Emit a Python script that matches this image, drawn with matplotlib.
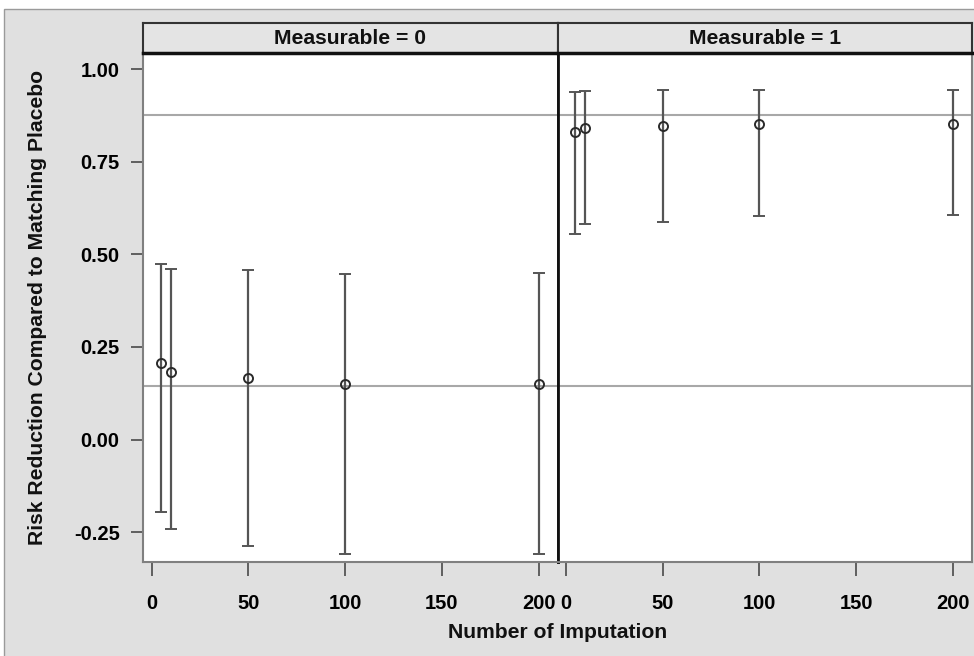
import matplotlib
matplotlib.use("Agg")
import matplotlib.pyplot as plt
from matplotlib.patches import Rectangle

# ---- data ----
imputations = [5, 10, 50, 100, 200]
panels = ["Measurable = 0", "Measurable = 1"]
est_m0 = [0.208, 0.183, 0.165, 0.151, 0.150]
lo_m0 = [-0.194, -0.241, -0.286, -0.309, -0.309]
hi_m0 = [0.473, 0.460, 0.457, 0.448, 0.449]
est_m1 = [0.831, 0.840, 0.846, 0.851, 0.852]
lo_m1 = [0.554, 0.581, 0.588, 0.603, 0.606]
hi_m1 = [0.937, 0.941, 0.943, 0.943, 0.943]
ref_lines = [0.145, 0.877]
yticks = [-0.25, 0.00, 0.25, 0.50, 0.75, 1.00]
xticks = [0, 50, 100, 150, 200]

plt.rcParams['font.family'] = ['Liberation Sans', 'DejaVu Sans']
plt.rcParams['font.weight'] = 'bold'
plt.rcParams['axes.unicode_minus'] = False

W, H = 974, 656
fig = plt.figure(figsize=(W / 100, H / 100), dpi=100)
fig.patch.set_facecolor('white')

BG = '#e0e0e0'
# outer gray panel
bg = Rectangle((4 / W, -0.01), 1.0, 1 - 9 / H + 0.01, transform=fig.transFigure,
               facecolor=BG, edgecolor='#9a9a9a', linewidth=1.0, zorder=-10)
fig.add_artist(bg)

def fx(px):
    return px / W

def fy(py):
    return 1 - py / H

top_px, bot_px = 52.7, 562.3
strip_top = 23.3
lefts = [143.3, 557.5]
rights = [557.5, 971.7]
FS = 14.5
FS_LBL = 15.2

series = [(est_m0, lo_m0, hi_m0), (est_m1, lo_m1, hi_m1)]

for i in range(2):
    l, r = lefts[i], rights[i]
    ax = fig.add_axes([fx(l), fy(bot_px), fx(r - l), (bot_px - top_px) / H])
    ax.set_zorder(1)
    ax.set_facecolor('white')
    est, lo, hi = series[i]
    for yv in ref_lines:
        ax.axhline(yv, color='#a8a8a8', lw=1.5, zorder=1)
    yerr = [[e - a for e, a in zip(est, lo)], [b - e for e, b in zip(est, hi)]]
    ax.errorbar(imputations, est, yerr=yerr, fmt='o', mfc='none', mec='#2a2a2a', mew=1.4, ms=6.5,
                ecolor='#555555', elinewidth=1.6, capsize=4.5, capthick=1.6, zorder=3)
    ax.set_xlim(-4.3, 209.8)
    ax.set_ylim(-0.331, 1.044)
    ax.set_xticks(xticks)
    ax.set_xticklabels([str(t) for t in xticks], fontsize=FS, fontweight='bold')
    ax.tick_params(axis='x', length=10, width=1.3, color='#555555', pad=13)
    if i == 0:
        ax.set_yticks(yticks)
        ax.set_yticklabels(['%.2f' % t for t in yticks], fontsize=FS, fontweight='bold')
        ax.tick_params(axis='y', length=9, width=1.3, color='#555555', pad=8)
    else:
        ax.set_yticks([])
    for s in ax.spines.values():
        s.set_color('#808080')
        s.set_linewidth(1.5)
    if i == 0:
        ax.spines['right'].set_color('#111111')
        ax.spines['right'].set_linewidth(2.0)
    else:
        ax.spines['left'].set_color('#111111')
        ax.spines['left'].set_linewidth(2.0)

    # strip
    sax = fig.add_axes([fx(l), fy(top_px), fx(r - l), (top_px - strip_top) / H])
    sax.set_zorder(1)
    sax.set_facecolor('#e4e4e4')
    sax.set_xticks([])
    sax.set_yticks([])
    for s in sax.spines.values():
        s.set_color('#333333')
        s.set_linewidth(1.5)
    sax.spines['bottom'].set_color('#111111')
    sax.spines['bottom'].set_linewidth(2.5)
    sax.text(0.5, 0.5, panels[i], transform=sax.transAxes, ha='center', va='center',
             fontsize=FS_LBL, fontweight='bold', color='#111111')

fig.text(fx((143.3 + 971.7) / 2), fy(633), 'Number of Imputation', ha='center', va='center',
         fontsize=FS_LBL, fontweight='bold', color='#111111')
fig.text(fx(38), fy((top_px + bot_px) / 2), 'Risk Reduction Compared to Matching Placebo',
         rotation=90, ha='center', va='center', fontsize=FS_LBL, fontweight='bold', color='#111111')

fig.savefig('out.png', dpi=100, facecolor=fig.get_facecolor())
